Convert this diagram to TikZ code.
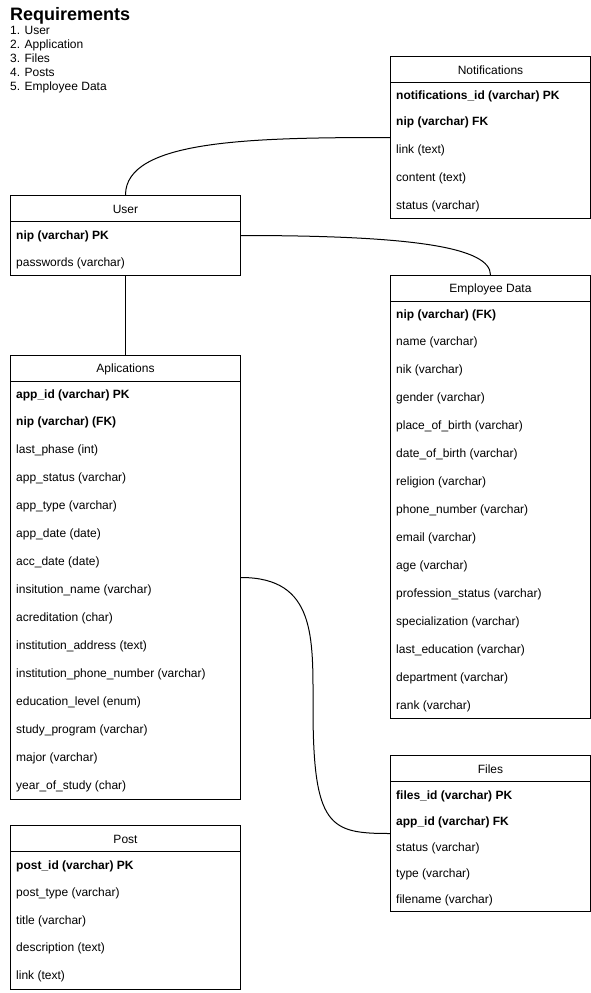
\documentclass[tikz,border=0pt]{standalone}
\usepackage{fontspec}
\setmainfont{Liberation Sans}
\begin{document}
\begin{tikzpicture}[x=1pt,y=-1pt,
  tbl/.style={draw, line width=1pt, anchor=north west, inner sep=0pt},
  hdr/.style={inner sep=0pt, yshift=-1pt, font=\fontsize{12}{14}\selectfont},
  fld/.style={anchor=west, inner sep=0pt, yshift=-1pt, text height=9pt, text depth=2.5pt, font=\fontsize{12}{14}\selectfont},
  keyfld/.style={fld, font=\fontsize{12}{14}\selectfont\bfseries},
  rel/.style={line width=1pt},
  sep/.style={line width=1pt}]
\useasboundingbox (0,0) rectangle (591,993);

% requirements list
\node[anchor=west, inner sep=0pt, font=\fontsize{18}{20}\selectfont\bfseries] (reqtitle) at (10,15.5) {Requirements};
\foreach \y/\t [count=\i] in {30/1. User, 44/2. Application, 58/3. Files, 72/4. Posts, 86/5. Employee Data}
  \node[fld] (req\i) at (10,\y) {\t};

% Notifications table
\node[tbl, minimum width=200pt, minimum height=162pt] (notif) at (390,56) {};
\draw[sep] ([yshift=-26pt]notif.north west) -- ([yshift=-26pt]notif.north east);
\node[hdr] (notifT) at ([yshift=-13pt]notif.north) {Notifications};
\node[keyfld] (notif1) at (396,95) {notifications\_id (varchar) PK};
\node[keyfld] (notif2) at (396,121) {nip (varchar) FK};
\foreach \y/\t [count=\i from 3] in {149/link (text), 177/content (text), 205/status (varchar)}
  \node[fld] (notif\i) at (396,\y) {\t};

% User table
\node[tbl, minimum width=230pt, minimum height=80pt] (user) at (10,195) {};
\draw[sep] ([yshift=-26pt]user.north west) -- ([yshift=-26pt]user.north east);
\node[hdr] (userT) at ([yshift=-13pt]user.north) {User};
\node[keyfld] (user1) at (16,235) {nip (varchar) PK};
\node[fld] (user2) at (16,262) {passwords (varchar)};

% Employee Data table
\node[tbl, minimum width=200pt, minimum height=443pt] (emp) at (390,275) {};
\draw[sep] ([yshift=-26pt]emp.north west) -- ([yshift=-26pt]emp.north east);
\node[hdr] (empT) at ([yshift=-13pt]emp.north) {Employee Data};
\node[keyfld] (emp1) at (396,314) {nip (varchar) (FK)};
\foreach \t [count=\i from 2] in {name (varchar), nik (varchar), gender (varchar),
    place\_of\_birth (varchar), date\_of\_birth (varchar), religion (varchar),
    phone\_number (varchar), email (varchar), age (varchar), profession\_status (varchar),
    specialization (varchar), last\_education (varchar), department (varchar), rank (varchar)}
  \node[fld] (emp\i) at (396,{313+28*(\i-1)}) {\t};

% Applications table
\node[tbl, minimum width=230pt, minimum height=444pt] (app) at (10,355) {};
\draw[sep] ([yshift=-26pt]app.north west) -- ([yshift=-26pt]app.north east);
\node[hdr] (appT) at ([yshift=-13pt]app.north) {Aplications};
\node[keyfld] (app1) at (16,394) {app\_id (varchar) PK};
\node[keyfld] (app2) at (16,421) {nip (varchar) (FK)};
\foreach \t [count=\i from 3] in {last\_phase (int), app\_status (varchar), app\_type (varchar),
    app\_date (date), acc\_date (date), insitution\_name (varchar), acreditation (char),
    institution\_address (text), institution\_phone\_number (varchar), education\_level (enum),
    study\_program (varchar), major (varchar), year\_of\_study (char)}
  \node[fld] (app\i) at (16,{393+28*(\i-1)}) {\t};

% Files table
\node[tbl, minimum width=200pt, minimum height=156pt] (files) at (390,755) {};
\draw[sep] ([yshift=-26pt]files.north west) -- ([yshift=-26pt]files.north east);
\node[hdr] (filesT) at ([yshift=-13pt]files.north) {Files};
\node[keyfld] (files1) at (396,795) {files\_id (varchar) PK};
\node[keyfld] (files2) at (396,821) {app\_id (varchar) FK};
\foreach \y/\t [count=\i from 3] in {847/status (varchar), 873/type (varchar), 899/filename (varchar)}
  \node[fld] (files\i) at (396,\y) {\t};

% Post table
\node[tbl, minimum width=230pt, minimum height=164pt] (post) at (10,825) {};
\draw[sep] ([yshift=-26pt]post.north west) -- ([yshift=-26pt]post.north east);
\node[hdr] (postT) at ([yshift=-13pt]post.north) {Post};
\node[keyfld] (post1) at (16,865) {post\_id (varchar) PK};
\foreach \y/\t [count=\i from 2] in {892/post\_type (varchar), 920/title (varchar), 947/description (text), 975/link (text)}
  \node[fld] (post\i) at (16,\y) {\t};

% relations
\draw[rel] (user.north) .. controls +(0,-55) and +(-140,0) .. (notif.west);
\draw[rel] (user.east) .. controls +(170,0) and +(0,-28) .. (emp.north);
\draw[rel] (user.south) -- (app.north);
\draw[rel] (app.east) .. controls +(75,0) and +(0,-70) .. ([shift={(72,130)}]app.east)
  .. controls +(0,120) and +(-60,0) .. (files.west);
\end{tikzpicture}
\end{document}
